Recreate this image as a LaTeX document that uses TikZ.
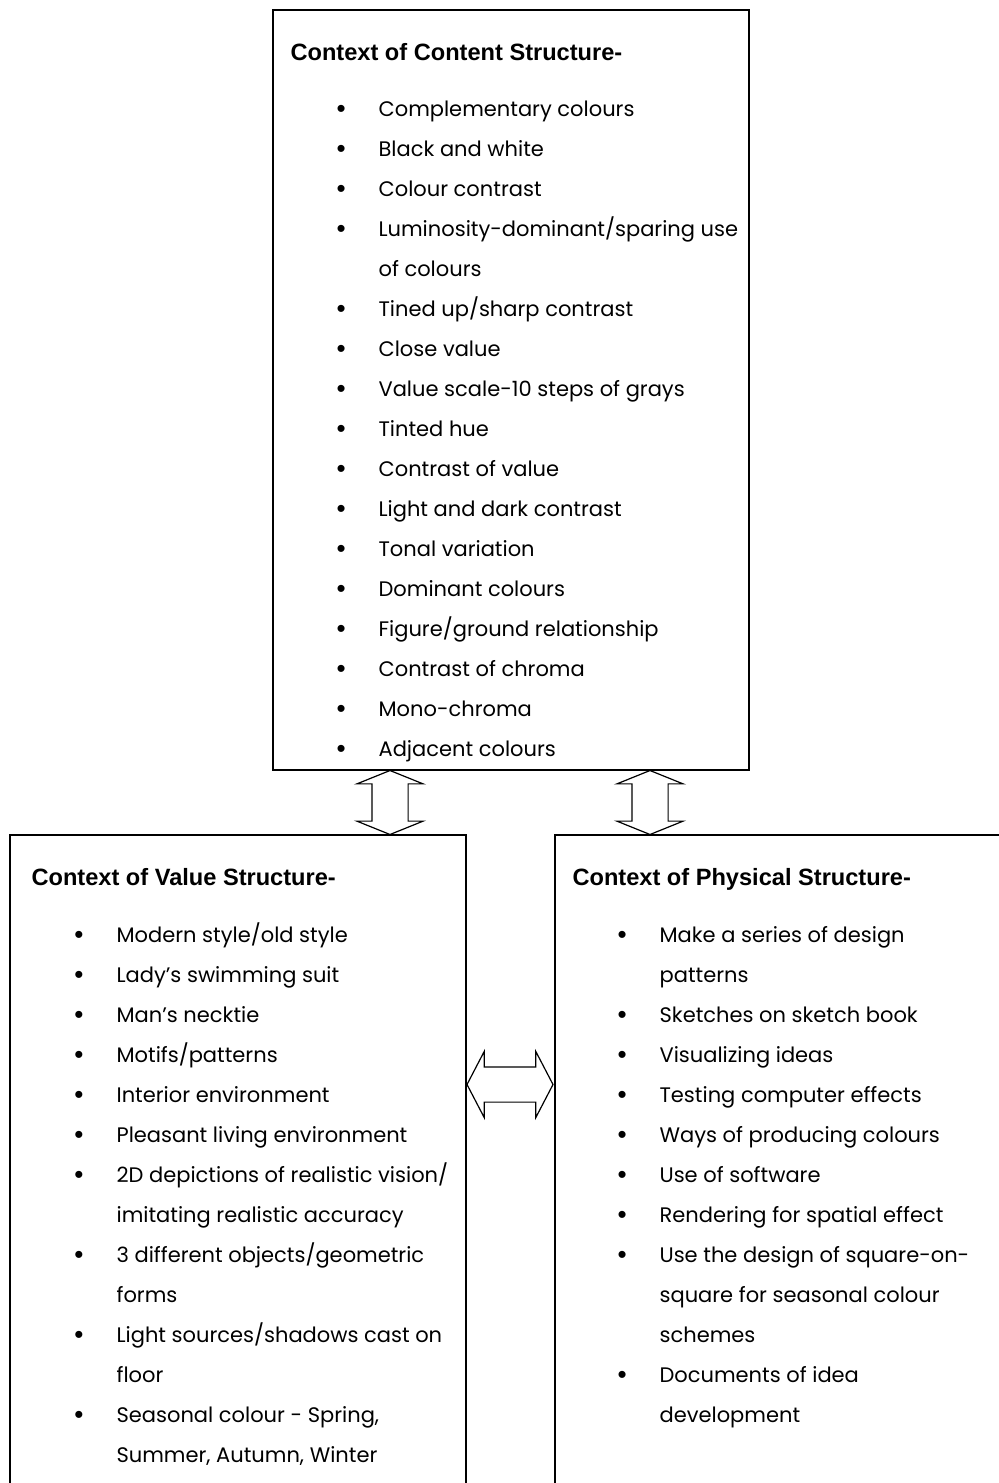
\documentclass[tikz,border=0pt]{standalone}
\usepackage{fontspec}
\setmainfont{Liberation Sans}
\newfontfamily\listfont{Poppins}
\usetikzlibrary{shapes.arrows}

\newcommand{\bul}{\llap{\raisebox{-0.7pt}{\normalfont\fontsize{13}{13}\selectfont\textbullet}\hspace{16.5pt}}}

\begin{document}
\begin{tikzpicture}[x=0.5pt, y=-0.5pt, line width=0.6pt,
    ctxbox/.style={draw, rectangle, inner sep=0pt},
    heading/.style={anchor=base west, inner sep=0pt, font=\fontsize{11.8}{14}\selectfont\bfseries},
    itemlist/.style={anchor=base west, inner sep=0pt, align=left, font=\listfont\fontsize{10.5}{20}\selectfont},
    vlink/.style={draw, double arrow, rotate=90, inner sep=0pt, inner ysep=8.75pt, minimum height=32pt,
        double arrow head extend=7.5pt, double arrow tip angle=136},
    hlink/.style={draw, double arrow, inner sep=0pt, inner ysep=8.5pt, minimum height=43pt,
        double arrow head extend=7.75pt, double arrow tip angle=125}]
    \useasboundingbox (0,0) rectangle (999,1483);

    % Top: content structure (list anchored at its last line)
    \node[ctxbox, minimum width=238pt, minimum height=380pt] (Content) at (511,390) {};
    \node[heading] (ContentHead) at (290,60) {Context of Content Structure-};
    \node[itemlist] (ContentList) at (378,756) {\bul Complementary colours\\
        \bul Black and white\\
        \bul Colour contrast\\
        \bul Luminosity-dominant/sparing use\\
        of colours\\
        \bul Tined up/sharp contrast\\
        \bul Close value\\
        \bul Value scale-10 steps of grays\\
        \bul Tinted hue\\
        \bul Contrast of value\\
        \bul Light and dark contrast\\
        \bul Tonal variation\\
        \bul Dominant colours\\
        \bul Figure/ground relationship\\
        \bul Contrast of chroma\\
        \bul Mono-chroma\\
        \bul Adjacent colours};

    % Bottom left: value structure
    \node[ctxbox, minimum width=228pt, minimum height=332.5pt] (Value) at (238,1167.5) {};
    \node[heading] (ValueHead) at (31,885) {Context of Value Structure-};
    \node[itemlist] (ValueList) at (116,1462) {\bul Modern style/old style\\
        \bul Lady’s swimming suit\\
        \bul Man’s necktie\\
        \bul Motifs/patterns\\
        \bul Interior environment\\
        \bul Pleasant living environment\\
        \bul 2D depictions of realistic vision/\\
        imitating realistic accuracy\\
        \bul 3 different objects/geometric\\
        forms\\
        \bul Light sources/shadows cast on\\
        floor\\
        \bul Seasonal colour - Spring,\\
        Summer, Autumn, Winter};

    % Bottom right: physical structure
    \node[ctxbox, minimum width=225pt, minimum height=332.5pt] (Physical) at (780,1167.5) {};
    \node[heading] (PhysicalHead) at (572,885) {Context of Physical Structure-};
    \node[itemlist] (PhysicalList) at (659,1422) {\bul Make a series of design\\
        patterns\\
        \bul Sketches on sketch book\\
        \bul Visualizing ideas\\
        \bul Testing computer effects\\
        \bul Ways of producing colours\\
        \bul Use of software\\
        \bul Rendering for spatial effect\\
        \bul Use the design of square-on-\\
        square for seasonal colour\\
        schemes\\
        \bul Documents of idea\\
        development};

    % Hollow double arrows between the boxes
    \node[vlink] (ContentValue) at (390,802.5) {};
    \node[vlink] (ContentPhysical) at (650,802.5) {};
    \node[hlink] (ValuePhysical) at (510,1084.5) {};
\end{tikzpicture}
\end{document}
